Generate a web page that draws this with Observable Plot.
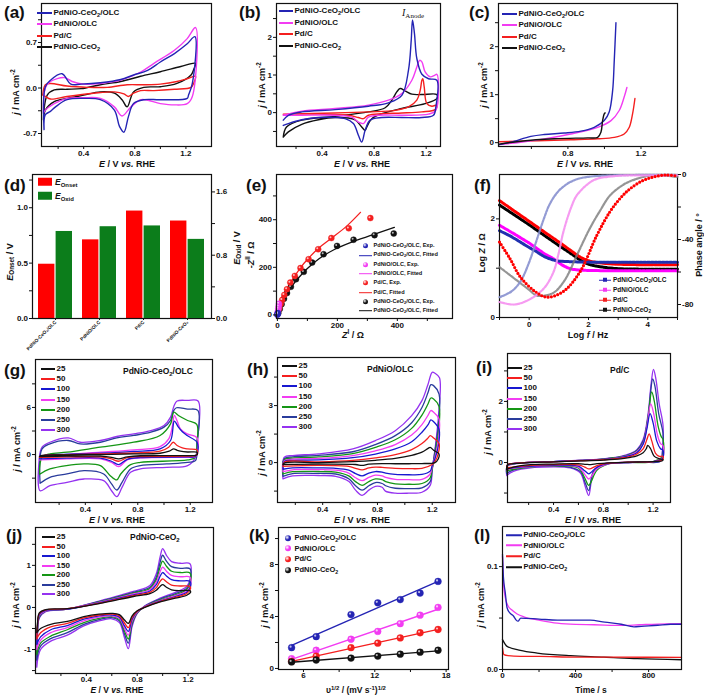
<!DOCTYPE html>
<html><head><meta charset="utf-8">
<script src="https://cdn.jsdelivr.net/npm/d3@7"></script>
<script src="https://cdn.jsdelivr.net/npm/@observablehq/plot@0.6"></script>
<style>
body{margin:0;background:#fff}
#root{position:relative;width:704px;height:695px;overflow:hidden;font-family:"Liberation Sans",Arial,sans-serif;font-weight:bold;color:#111;background:#fff}
.abs{position:absolute;white-space:nowrap;line-height:1}
.row{display:flex;align-items:center}
sub,sup{font-size:70%;line-height:0}
sub{vertical-align:-0.3em}
sup{vertical-align:0.5em}
</style></head>
<body><div id="root"></div>
<script>
// ---------------- DATA ----------------
const names4 = ["PdNiO-CeO<sub>2</sub>/OLC", "PdNiO/OLC", "Pd/C", "PdNiO-CeO<sub>2</sub>"];
const scanRates = ["25", "50", "100", "150", "200", "250", "300"];
// (a) CV  [E (V vs RHE), j (mA cm-2)]
const aBlue = [[0.09,-0.64],[0.10,0.02],[0.14,0.12],[0.23,0.22],[0.30,0.06],[0.38,0.06],[0.53,0.08],[0.69,0.13],[0.79,0.20],[0.90,0.27],[1.00,0.40],[1.11,0.53],[1.21,0.68],[1.27,0.79],[1.25,0.07],[1.22,-0.11],[1.21,-0.16],[1.00,-0.18],[0.87,-0.18],[0.79,-0.24],[0.75,-0.44],[0.715,-0.68],[0.68,-0.59],[0.64,-0.34],[0.53,-0.18],[0.40,-0.16],[0.27,-0.18],[0.18,-0.29],[0.14,-0.36],[0.10,-0.41],[0.09,-0.64]];
const aMag = [[0.085,-0.39],[0.10,0.0],[0.14,0.10],[0.25,0.16],[0.31,0.10],[0.40,0.06],[0.53,0.07],[0.69,0.12],[0.85,0.25],[0.95,0.38],[1.11,0.58],[1.21,0.76],[1.275,0.93],[1.25,-0.13],[1.21,-0.24],[1.11,-0.26],[1.00,-0.24],[0.85,-0.18],[0.77,-0.29],[0.70,-0.43],[0.64,-0.29],[0.53,-0.16],[0.40,-0.15],[0.27,-0.16],[0.17,-0.24],[0.10,-0.34],[0.085,-0.39]];
const aRed = [[0.08,-0.11],[0.10,0.05],[0.14,0.07],[0.27,0.03],[0.43,0.01],[0.585,0.01],[0.74,0.05],[0.87,0.05],[1.00,0.06],[1.13,0.10],[1.22,0.15],[1.275,0.18],[1.26,0.07],[1.24,0.01],[1.11,-0.02],[0.95,-0.04],[0.845,-0.04],[0.79,-0.08],[0.75,-0.13],[0.715,-0.09],[0.64,-0.06],[0.48,-0.08],[0.27,-0.13],[0.14,-0.17],[0.10,-0.13],[0.08,-0.11]];
const aBlack = [[0.085,-0.49],[0.115,-0.11],[0.17,-0.03],[0.27,-0.02],[0.38,-0.01],[0.53,0.05],[0.69,0.10],[0.845,0.18],[1.00,0.25],[1.16,0.33],[1.275,0.38],[1.26,0.28],[1.24,0.20],[1.13,0.07],[1.00,0.02],[0.87,0.01],[0.79,-0.06],[0.74,-0.29],[0.70,-0.18],[0.64,-0.08],[0.53,-0.06],[0.40,-0.11],[0.27,-0.16],[0.17,-0.21],[0.10,-0.34],[0.085,-0.49]];
// (b) CV ethanol
const bBlue = [[0.102,-0.20],[0.141,-0.07],[0.244,0.02],[0.5,0.08],[0.756,0.17],[0.91,0.26],[1.013,0.46],[1.064,1.13],[1.085,1.92],[1.095,2.46],[1.11,2.10],[1.128,1.44],[1.167,1.02],[1.218,0.90],[1.282,0.86],[1.274,0.15],[1.256,-0.07],[1.167,-0.13],[1.013,-0.13],[0.859,-0.13],[0.769,-0.20],[0.731,-0.47],[0.705,-0.78],[0.679,-0.60],[0.641,-0.29],[0.577,-0.16],[0.372,-0.13],[0.244,-0.19],[0.141,-0.29],[0.102,-0.34]];
const bMag = [[0.102,-0.07],[0.244,0.04],[0.5,0.11],[0.756,0.20],[0.91,0.33],[1.013,0.51],[1.09,0.86],[1.128,1.21],[1.149,1.39],[1.167,1.35],[1.192,1.08],[1.231,0.95],[1.264,0.99],[1.282,1.02],[1.274,0.06],[1.218,-0.04],[1.013,-0.07],[0.833,-0.07],[0.756,-0.12],[0.718,-0.29],[0.679,-0.25],[0.628,-0.12],[0.5,-0.07],[0.244,-0.07],[0.102,-0.07]];
const bRed = [[0.102,-0.04],[0.5,-0.01],[0.756,0.02],[0.962,0.06],[1.064,0.15],[1.128,0.33],[1.154,0.59],[1.167,0.86],[1.174,0.90],[1.185,0.68],[1.205,0.24],[1.244,0.17],[1.282,0.20],[1.269,0.08],[1.167,0.02],[1.013,-0.01],[0.859,-0.03],[0.756,-0.07],[0.718,-0.16],[0.679,-0.13],[0.603,-0.07],[0.372,-0.04],[0.102,-0.04]];
const bBlack = [[0.102,-0.65],[0.127,-0.38],[0.244,-0.20],[0.5,-0.10],[0.756,0.02],[0.885,0.13],[0.936,0.33],[0.974,0.55],[1.0,0.64],[1.038,0.58],[1.09,0.49],[1.167,0.48],[1.282,0.48],[1.282,0.37],[1.192,0.24],[1.013,0.11],[0.859,-0.03],[0.782,-0.16],[0.744,-0.38],[0.731,-0.47],[0.70,-0.36],[0.654,-0.19],[0.5,-0.13],[0.372,-0.19],[0.244,-0.31],[0.141,-0.51],[0.102,-0.65]];
// (c) LSV
const cBlue = [[0.424,-0.04],[0.488,0.01],[0.597,0.13],[0.67,0.17],[0.78,0.2],[0.871,0.24],[0.944,0.32],[0.999,0.46],[1.026,0.64],[1.045,1.09],[1.054,1.73],[1.063,2.5]];
const cMag = [[0.424,-0.04],[0.542,0.01],[0.67,0.08],[0.816,0.18],[0.963,0.32],[1.036,0.46],[1.081,0.67],[1.108,0.95],[1.123,1.15]];
const cRed = [[0.424,0.02],[0.634,0.04],[0.816,0.06],[0.963,0.08],[1.054,0.11],[1.108,0.18],[1.136,0.32],[1.154,0.6],[1.167,0.92]];
const cBlack = [[0.424,-0.03],[0.542,0.03],[0.725,0.08],[0.908,0.1],[0.963,0.11],[0.981,0.22],[0.99,0.46],[0.999,0.6],[1.004,0.62]];
// (d) onset / oxidation potentials
const dCats = ["PdNiO-CeO₂/OLC", "PdNiO/OLC", "Pd/C", "PdNiO-CeO₂"];
const dOnset = [0.49, 0.71, 0.97, 0.88];
const dOxid = [1.10, 1.16, 1.17, 1.00];
// (e) Nyquist  [Z', -Z'']
const eBlueExp = [[0,1],[1,4],[1.5,8]];
const eBlueFit = [[0,0],[1,5],[2,10]];
const eMagExp = [[0,2],[1,9],[2,17],[3,26],[4,36],[5,47]];
const eMagFit = [[0,0],[1.5,12],[3,28],[5,48]];
const eRedExp = [[2,10],[6,28],[11,46],[16,63],[23,84],[32,108],[43,136],[58,164],[77,197],[104,234],[136,276],[180,323],[238,364],[310,407]];
const eRedFit = [[0,0],[8,35],[18,70],[32,108],[50,148],[75,195],[105,240],[140,283],[180,322],[230,372],[277,431]];
const eBlackExp = [[3,8],[8,25],[14,45],[22,68],[32,92],[45,118],[62,150],[88,181],[116,220],[154,255],[199,290],[254,316],[324,335],[388,342]];
const eBlackFit = [[0,0],[10,35],[25,75],[45,115],[70,155],[100,195],[140,237],[190,275],[250,307],[320,337],[390,368]];
// (f) Bode  [log f, log Z] and [log f, phase]
const fBlueZ = [[-1,1.76],[-0.6,1.64],[-0.3,1.53],[0,1.42],[0.26,1.33],[0.5,1.24],[0.7,1.19],[0.93,1.15],[1.5,1.13],[2.5,1.12],[3.5,1.12],[4.5,1.12],[5,1.12]];
const fMagZ = [[-1,1.87],[-0.6,1.73],[-0.3,1.62],[0,1.51],[0.26,1.40],[0.5,1.3],[0.82,1.19],[1.1,1.07],[1.38,0.99],[1.8,0.96],[2.5,0.95],[3.5,0.95],[4.5,0.95],[5,0.95]];
const fRedZ = [[-1,2.37],[-0.5,2.16],[0,1.95],[0.5,1.74],[1.0,1.53],[1.4,1.36],[1.71,1.23],[2.0,1.15],[2.5,1.1],[3,1.08],[4,1.07],[5,1.07]];
const fBlackZ = [[-1,2.28],[-0.5,2.08],[0,1.88],[0.5,1.67],[1.0,1.46],[1.4,1.3],[1.71,1.17],[2.0,1.08],[2.5,1.02],[3,0.99],[4,0.98],[5,0.98]];
const fBluePh = [[-1,-75.5],[-0.6,-72],[-0.3,-66],[0,-54],[0.26,-40],[0.5,-27],[0.7,-18],[1.0,-10],[1.38,-4.7],[1.8,-2],[2.5,-0.7],[3.5,-0.3],[5,-0.3]];
const fMagPh = [[-1,-78.5],[-0.5,-80],[0,-77],[0.5,-70],[0.82,-60],[1.0,-48],[1.15,-35.5],[1.4,-21],[1.6,-13],[2.0,-5.5],[2.28,-2.7],[3,-0.8],[4,-0.5],[5,-0.5]];
const fBlackPh = [[-1,-57],[-0.5,-64],[0,-71],[0.26,-74.5],[0.8,-73],[1.2,-65],[1.6,-50],[2.05,-33],[2.4,-22],[2.72,-13],[3.2,-6],[3.62,-2.7],[4.2,-0.5],[5,-1.5]];
const fRedPh = [[-1,-41.6],[-0.64,-52],[-0.3,-63],[0.2,-72],[0.6,-75.5],[1.15,-72],[1.71,-60],[2.28,-37.5],[2.72,-23],[3.1,-14],[3.4,-8.8],[3.8,-4],[4.18,-1.6],[4.6,-0.3],[5,-1]];
// (g) PdNiO-CeO2/OLC scan rates
const g25 = [[0.05,-0.25],[0.06,-0.13],[0.26,-0.05],[0.515,0.0],[0.77,0.08],[0.97,0.17],[1.04,0.45],[1.074,0.72],[1.1,0.55],[1.125,0.43],[1.18,0.33],[1.252,0.3],[1.255,0.05],[1.24,-0.1],[1.18,-0.13],[0.82,-0.15],[0.72,-0.3],[0.654,-0.55],[0.6,-0.35],[0.515,-0.2],[0.26,-0.2],[0.05,-0.25]];
const g50 = [[0.05,-0.35],[0.06,-0.17],[0.26,-0.02],[0.515,0.09],[0.77,0.2],[0.97,0.43],[1.036,0.94],[1.07,1.57],[1.1,1.15],[1.14,0.85],[1.18,0.72],[1.252,0.6],[1.255,0.1],[1.24,-0.15],[1.18,-0.2],[0.82,-0.25],[0.72,-0.4],[0.654,-0.85],[0.6,-0.55],[0.515,-0.3],[0.26,-0.3],[0.05,-0.35]];
const g100 = [[0.05,-0.55],[0.06,-0.26],[0.26,0.05],[0.515,0.17],[0.77,0.4],[0.97,0.72],[1.05,1.79],[1.079,4.26],[1.11,3.49],[1.14,2.9],[1.176,2.43],[1.252,1.57],[1.255,0.2],[1.24,-0.25],[1.18,-0.3],[0.82,-0.38],[0.72,-0.6],[0.654,-1.28],[0.6,-0.85],[0.515,-0.45],[0.26,-0.45],[0.05,-0.55]];
const g150 = [[0.05,-0.68],[0.06,-0.34],[0.26,0.0],[0.515,0.3],[0.77,0.6],[0.97,1.02],[1.036,2.0],[1.065,3.7],[1.079,4.98],[1.1,4.3],[1.125,3.28],[1.176,2.64],[1.252,2.13],[1.255,0.3],[1.24,-0.3],[1.18,-0.34],[0.82,-0.43],[0.72,-0.68],[0.654,-1.53],[0.6,-1.0],[0.515,-0.55],[0.26,-0.55],[0.05,-0.68]];
const g200 = [[0.05,-2.47],[0.07,-0.34],[0.13,0.1],[0.26,0.3],[0.515,0.94],[0.77,1.57],[0.97,2.43],[1.05,3.91],[1.075,5.4],[1.11,4.98],[1.18,4.34],[1.25,3.83],[1.252,1.5],[1.24,-0.34],[1.18,-0.68],[0.82,-0.98],[0.745,-1.28],[0.67,-2.47],[0.64,-3.23],[0.59,-2.68],[0.515,-1.4],[0.39,-1.19],[0.13,-1.83],[0.055,-2.47]];
const g250 = [[0.055,-3.66],[0.07,0.72],[0.13,1.36],[0.27,1.79],[0.36,1.36],[0.515,1.57],[0.64,2.13],[0.77,2.43],[0.9,2.85],[1.0,3.49],[1.05,4.34],[1.075,5.62],[1.095,5.96],[1.18,5.79],[1.258,5.62],[1.252,1.36],[1.24,-0.77],[1.18,-0.98],[1.02,-1.19],[0.82,-1.4],[0.745,-1.83],[0.68,-3.53],[0.64,-4.51],[0.60,-3.74],[0.54,-2.47],[0.39,-2.04],[0.26,-2.47],[0.13,-2.89],[0.055,-3.66]];
const g300 = [[0.05,-0.34],[0.07,0.94],[0.13,1.57],[0.27,2.13],[0.36,1.57],[0.515,1.79],[0.64,2.3],[0.77,2.64],[0.90,3.06],[1.0,3.7],[1.05,4.77],[1.075,6.13],[1.10,6.81],[1.18,6.89],[1.26,6.81],[1.255,1.79],[1.24,-0.34],[1.18,-1.4],[1.02,-1.62],[0.82,-1.83],[0.745,-2.26],[0.68,-4.17],[0.64,-5.36],[0.60,-4.6],[0.54,-3.32],[0.39,-3.11],[0.26,-3.53],[0.13,-3.96],[0.055,-4.6],[0.05,-0.34]];
// (h) PdNiO/OLC scan rates
const h25 = [[0.11,-0.1],[0.12,-0.02],[0.37,0.0],[0.62,0.05],[0.785,0.12],[0.93,0.22],[1.05,0.38],[1.125,0.55],[1.17,0.75],[1.185,0.8],[1.21,0.65],[1.25,0.45],[1.245,0.2],[1.22,0.0],[1.125,-0.05],[1.03,-0.06],[0.93,-0.06],[0.834,-0.05],[0.737,-0.08],[0.688,-0.15],[0.64,-0.1],[0.37,-0.08],[0.11,-0.1]];
const h50 = [[0.11,-0.2],[0.12,0.02],[0.37,0.04],[0.62,0.12],[0.785,0.25],[0.93,0.42],[1.05,0.68],[1.125,1.0],[1.17,1.3],[1.185,1.42],[1.21,1.3],[1.25,1.0],[1.245,0.5],[1.22,0.05],[1.2,-0.1],[1.125,-0.3],[1.03,-0.32],[0.93,-0.3],[0.834,-0.25],[0.785,-0.24],[0.737,-0.28],[0.688,-0.38],[0.64,-0.3],[0.59,-0.2],[0.37,-0.15],[0.11,-0.2]];
const h100 = [[0.11,-0.35],[0.12,0.06],[0.18,0.12],[0.37,0.14],[0.62,0.26],[0.785,0.45],[0.93,0.72],[1.05,1.1],[1.125,1.6],[1.17,2.0],[1.19,2.25],[1.21,2.15],[1.25,1.75],[1.245,0.9],[1.22,0.2],[1.2,-0.15],[1.185,-0.45],[1.125,-0.62],[1.03,-0.64],[0.93,-0.62],[0.86,-0.55],[0.834,-0.5],[0.785,-0.47],[0.737,-0.55],[0.688,-0.7],[0.64,-0.58],[0.59,-0.4],[0.495,-0.3],[0.37,-0.28],[0.18,-0.28],[0.11,-0.35]];
const h150 = [[0.11,-0.48],[0.12,0.1],[0.18,0.18],[0.37,0.22],[0.62,0.37],[0.785,0.62],[0.93,0.95],[1.05,1.45],[1.125,2.0],[1.17,2.5],[1.19,2.74],[1.21,2.65],[1.25,2.3],[1.245,1.2],[1.22,0.3],[1.2,-0.2],[1.185,-0.6],[1.125,-0.88],[1.03,-0.9],[0.93,-0.88],[0.86,-0.78],[0.834,-0.7],[0.785,-0.66],[0.737,-0.78],[0.688,-0.95],[0.64,-0.8],[0.59,-0.55],[0.495,-0.4],[0.37,-0.37],[0.18,-0.38],[0.11,-0.48]];
const h200 = [[0.11,-0.6],[0.12,0.15],[0.18,0.24],[0.37,0.3],[0.62,0.47],[0.785,0.8],[0.93,1.2],[1.05,1.8],[1.125,2.5],[1.17,3.1],[1.19,3.4],[1.21,3.35],[1.25,2.95],[1.245,1.6],[1.22,0.4],[1.2,-0.3],[1.185,-0.8],[1.125,-1.1],[1.03,-1.14],[0.93,-1.12],[0.86,-1.0],[0.834,-0.9],[0.785,-0.86],[0.737,-1.0],[0.688,-1.2],[0.64,-1.0],[0.59,-0.7],[0.495,-0.5],[0.37,-0.47],[0.18,-0.48],[0.11,-0.6]];
const h250 = [[0.11,-0.72],[0.12,0.2],[0.18,0.3],[0.37,0.38],[0.62,0.57],[0.785,0.95],[0.93,1.42],[1.05,2.1],[1.125,2.9],[1.17,3.7],[1.19,4.1],[1.21,4.05],[1.25,3.6],[1.245,2.0],[1.22,0.6],[1.2,-0.3],[1.185,-1.0],[1.125,-1.33],[1.03,-1.37],[0.93,-1.35],[0.86,-1.22],[0.834,-1.1],[0.785,-1.05],[0.737,-1.22],[0.688,-1.45],[0.64,-1.22],[0.59,-0.85],[0.495,-0.6],[0.37,-0.57],[0.18,-0.58],[0.11,-0.72]];
const h300 = [[0.11,-0.86],[0.12,0.28],[0.18,0.37],[0.37,0.46],[0.62,0.72],[0.785,1.16],[0.93,1.68],[1.05,2.47],[1.125,3.26],[1.17,4.14],[1.2,4.75],[1.22,4.7],[1.253,4.46],[1.246,2.5],[1.222,0.8],[1.2,-0.4],[1.185,-1.2],[1.125,-1.56],[1.028,-1.61],[0.93,-1.61],[0.858,-1.5],[0.834,-1.3],[0.785,-1.25],[0.737,-1.45],[0.688,-1.72],[0.64,-1.45],[0.592,-1.0],[0.495,-0.72],[0.37,-0.68],[0.18,-0.7],[0.11,-0.86]];
// (i) Pd/C scan rates
const i25 = [[0.024,-0.25],[0.03,-0.08],[0.14,-0.02],[0.40,0.02],[0.62,0.05],[0.80,0.08],[0.94,0.12],[1.02,0.17],[1.07,0.22],[1.12,0.32],[1.145,0.45],[1.157,0.56],[1.18,0.45],[1.21,0.2],[1.25,0.12],[1.28,0.1],[1.275,0.06],[1.2,0.03],[1.0,0.01],[0.85,-0.01],[0.75,-0.04],[0.70,-0.07],[0.66,-0.06],[0.6,-0.04],[0.4,-0.05],[0.14,-0.1],[0.03,-0.22],[0.024,-0.25]];
const i50 = [[0.024,-0.2],[0.03,-0.07],[0.14,-0.01],[0.40,0.02],[0.62,0.06],[0.80,0.09],[0.94,0.14],[1.02,0.2],[1.07,0.28],[1.12,0.45],[1.15,0.75],[1.168,0.94],[1.19,0.7],[1.22,0.3],[1.25,0.2],[1.28,0.2],[1.275,0.08],[1.2,0.03],[1.0,0.01],[0.85,-0.02],[0.75,-0.1],[0.70,-0.2],[0.683,-0.21],[0.65,-0.15],[0.6,-0.08],[0.4,-0.07],[0.14,-0.12],[0.03,-0.18],[0.024,-0.2]];
const i100 = [[0.024,-0.22],[0.03,-0.08],[0.14,-0.01],[0.40,0.03],[0.62,0.06],[0.80,0.1],[0.94,0.16],[1.02,0.23],[1.07,0.32],[1.12,0.6],[1.15,1.1],[1.176,1.6],[1.2,1.3],[1.23,0.7],[1.26,0.45],[1.28,0.4],[1.275,0.12],[1.2,0.03],[1.0,0.0],[0.85,-0.03],[0.75,-0.15],[0.70,-0.33],[0.683,-0.37],[0.65,-0.27],[0.6,-0.12],[0.4,-0.09],[0.14,-0.14],[0.03,-0.2],[0.024,-0.22]];
const i150 = [[0.024,-0.25],[0.03,-0.09],[0.14,-0.01],[0.40,0.03],[0.62,0.07],[0.80,0.1],[0.94,0.17],[1.02,0.25],[1.07,0.35],[1.12,0.62],[1.155,1.3],[1.181,1.92],[1.205,1.6],[1.235,0.9],[1.26,0.62],[1.28,0.55],[1.275,0.15],[1.2,0.03],[1.0,0.0],[0.85,-0.04],[0.75,-0.2],[0.70,-0.48],[0.683,-0.54],[0.65,-0.38],[0.6,-0.15],[0.4,-0.1],[0.14,-0.16],[0.03,-0.23],[0.024,-0.25]];
const i200 = [[0.024,-0.3],[0.03,-0.1],[0.14,-0.02],[0.40,0.03],[0.62,0.07],[0.80,0.11],[0.94,0.18],[1.02,0.27],[1.07,0.37],[1.12,0.65],[1.16,1.5],[1.189,2.31],[1.21,2.0],[1.24,1.2],[1.265,0.85],[1.28,0.75],[1.275,0.2],[1.2,0.03],[1.0,0.0],[0.85,-0.04],[0.75,-0.25],[0.70,-0.65],[0.683,-0.75],[0.65,-0.5],[0.6,-0.18],[0.4,-0.11],[0.14,-0.18],[0.03,-0.27],[0.024,-0.3]];
const i250 = [[0.024,-0.37],[0.03,-0.1],[0.14,-0.02],[0.40,0.03],[0.62,0.07],[0.80,0.11],[0.94,0.18],[1.02,0.28],[1.07,0.4],[1.12,0.7],[1.16,1.45],[1.18,2.3],[1.197,2.74],[1.215,2.5],[1.245,1.6],[1.28,0.94],[1.275,0.3],[1.26,0.04],[1.12,0.01],[0.94,-0.01],[0.80,-0.05],[0.72,-0.3],[0.683,-0.92],[0.656,-0.68],[0.616,-0.3],[0.536,-0.16],[0.40,-0.12],[0.14,-0.18],[0.03,-0.34],[0.024,-0.37]];
const i300 = [[0.024,-0.43],[0.03,-0.12],[0.14,-0.02],[0.40,0.03],[0.62,0.08],[0.80,0.12],[0.94,0.2],[1.02,0.3],[1.07,0.42],[1.12,0.75],[1.16,1.6],[1.185,2.6],[1.203,3.05],[1.22,2.8],[1.25,1.9],[1.28,1.21],[1.275,0.4],[1.26,0.05],[1.12,0.02],[0.94,0.0],[0.80,-0.05],[0.72,-0.35],[0.683,-1.08],[0.656,-0.8],[0.616,-0.35],[0.536,-0.18],[0.40,-0.14],[0.14,-0.22],[0.03,-0.4],[0.024,-0.43]];
// (j) PdNiO-CeO2 scan rates
const j25 = [[0.01,-0.6],[0.015,-0.4],[0.03,-0.13],[0.08,-0.05],[0.25,-0.03],[0.5,0.09],[0.77,0.26],[0.9,0.33],[0.95,0.41],[0.98,0.5],[1.0,0.54],[1.03,0.48],[1.07,0.42],[1.14,0.4],[1.215,0.4],[1.22,0.36],[1.19,0.29],[1.1,0.22],[0.98,0.13],[0.86,0.0],[0.8,-0.08],[0.76,-0.2],[0.73,-0.38],[0.7,-0.3],[0.66,-0.17],[0.6,-0.14],[0.5,-0.16],[0.38,-0.22],[0.25,-0.33],[0.12,-0.4],[0.04,-0.5],[0.01,-0.6]];
const j50 = [[0.01,-0.75],[0.015,-0.45],[0.03,-0.15],[0.08,-0.06],[0.25,-0.03],[0.5,0.1],[0.77,0.28],[0.9,0.36],[0.95,0.47],[0.98,0.62],[1.0,0.68],[1.03,0.61],[1.07,0.53],[1.14,0.51],[1.215,0.5],[1.22,0.45],[1.19,0.33],[1.1,0.24],[0.98,0.14],[0.86,0.01],[0.8,-0.09],[0.76,-0.24],[0.73,-0.48],[0.7,-0.37],[0.66,-0.2],[0.6,-0.16],[0.5,-0.18],[0.38,-0.25],[0.25,-0.38],[0.12,-0.46],[0.04,-0.6],[0.01,-0.75]];
const j100 = [[0.01,-0.88],[0.015,-0.5],[0.03,-0.17],[0.08,-0.07],[0.25,-0.04],[0.5,0.11],[0.77,0.3],[0.9,0.39],[0.95,0.54],[0.98,0.74],[1.0,0.83],[1.03,0.75],[1.07,0.66],[1.14,0.63],[1.215,0.62],[1.22,0.5],[1.19,0.36],[1.1,0.26],[0.98,0.15],[0.86,0.01],[0.8,-0.1],[0.76,-0.28],[0.73,-0.57],[0.7,-0.44],[0.66,-0.23],[0.6,-0.18],[0.5,-0.2],[0.38,-0.28],[0.25,-0.43],[0.12,-0.53],[0.04,-0.7],[0.01,-0.88]];
const j150 = [[0.01,-1.0],[0.015,-0.55],[0.03,-0.19],[0.08,-0.08],[0.25,-0.04],[0.5,0.12],[0.77,0.32],[0.9,0.42],[0.95,0.6],[0.98,0.85],[1.0,0.96],[1.03,0.86],[1.07,0.76],[1.14,0.73],[1.215,0.72],[1.22,0.55],[1.19,0.39],[1.1,0.28],[0.98,0.16],[0.86,0.02],[0.8,-0.11],[0.76,-0.32],[0.73,-0.66],[0.7,-0.5],[0.66,-0.26],[0.6,-0.2],[0.5,-0.23],[0.38,-0.32],[0.25,-0.48],[0.12,-0.6],[0.04,-0.78],[0.01,-1.0]];
const j200 = [[0.01,-1.12],[0.015,-0.6],[0.03,-0.21],[0.08,-0.08],[0.25,-0.04],[0.5,0.13],[0.77,0.34],[0.9,0.45],[0.95,0.66],[0.98,0.96],[1.0,1.1],[1.03,0.98],[1.07,0.86],[1.14,0.83],[1.215,0.82],[1.22,0.61],[1.19,0.42],[1.1,0.3],[0.98,0.18],[0.86,0.02],[0.8,-0.12],[0.76,-0.36],[0.73,-0.75],[0.7,-0.56],[0.66,-0.29],[0.6,-0.22],[0.5,-0.26],[0.38,-0.36],[0.25,-0.53],[0.12,-0.68],[0.04,-0.85],[0.01,-1.12]];
const j250 = [[0.01,-1.25],[0.015,-0.65],[0.03,-0.23],[0.08,-0.09],[0.25,-0.04],[0.5,0.14],[0.77,0.36],[0.9,0.48],[0.95,0.72],[0.98,1.07],[1.0,1.24],[1.03,1.1],[1.07,0.97],[1.14,0.93],[1.215,0.92],[1.22,0.68],[1.19,0.46],[1.1,0.33],[0.98,0.2],[0.86,0.03],[0.8,-0.13],[0.76,-0.4],[0.73,-0.85],[0.7,-0.63],[0.66,-0.32],[0.6,-0.24],[0.5,-0.29],[0.38,-0.4],[0.25,-0.6],[0.12,-0.74],[0.04,-0.92],[0.01,-1.25]];
const j300 = [[0.01,-1.42],[0.015,-0.7],[0.03,-0.25],[0.08,-0.1],[0.25,-0.04],[0.5,0.15],[0.77,0.38],[0.9,0.52],[0.95,0.8],[0.98,1.2],[1.0,1.4],[1.03,1.24],[1.07,1.09],[1.14,1.05],[1.215,1.04],[1.22,0.75],[1.19,0.5],[1.1,0.36],[0.98,0.22],[0.86,0.04],[0.8,-0.14],[0.76,-0.45],[0.73,-0.98],[0.7,-0.72],[0.66,-0.36],[0.6,-0.27],[0.5,-0.32],[0.38,-0.44],[0.25,-0.66],[0.12,-0.8],[0.04,-1.0],[0.01,-1.42]];
// (k) peak current vs sqrt(scan rate)
const kX = [5, 7.07, 10, 12.25, 14.14, 15.81, 17.32];
const kBlue = [1.6, 2.45, 4.15, 5.05, 5.3, 5.8, 6.7];
const kMag = [0.75, 1.4, 2.25, 2.85, 3.45, 4.1, 4.7];
const kRed = [0.55, 0.95, 1.6, 1.95, 2.35, 2.75, 3.0];
const kBlack = [0.5, 0.65, 0.8, 0.95, 1.1, 1.25, 1.4];
// (l) chronoamperometry [t (s), j]
const lBlue = [[0,0.112],[5,0.09],[15,0.075],[25,0.06],[40,0.055],[60,0.052],[75,0.048],[85,0.047],[100,0.05],[200,0.049],[300,0.048],[400,0.048],[480,0.048],[560,0.046],[650,0.044],[720,0.0415],[760,0.042],[850,0.043],[920,0.044],[980,0.044]];
const lMag = [[0,0.11],[5,0.085],[15,0.07],[30,0.062],[50,0.058],[80,0.054],[120,0.051],[200,0.048],[300,0.045],[400,0.0438],[500,0.0435],[650,0.0428],[750,0.0435],[850,0.0442],[980,0.0446]];
const lRed = [[0,0.021],[8,0.0144],[30,0.0134],[100,0.0128],[200,0.0127],[400,0.0121],[600,0.012],[800,0.0119],[980,0.0118]];
const lBlack = [[0,0.029],[25,0.0225],[98,0.0186],[190,0.016],[373,0.0134],[555,0.0121],[738,0.0105],[980,0.0095]];

// ---------------- HELPERS ----------------
const root = document.getElementById("root");
const FONT = '"Liberation Sans", Arial, sans-serif';
const COL = {blue: "#2424b4", mag: "#f23cf2", red: "#f41f1f", black: "#111111"};
const scanCol = ["#111111", "#f41f1f", "#1818d0", "#f23cf2", "#159615", "#2a3c9c", "#9532f0"];
const P = d => d[0], Q = d => d[1];

function panel(o) {
  const m = {t: 8, r: 34, b: 20, l: 34};
  const svg = Plot.plot({
    width: o.fw + m.l + m.r, height: o.fh + m.t + m.b,
    marginTop: m.t, marginRight: m.r, marginBottom: m.b, marginLeft: m.l,
    x: o.x, y: o.y,
    style: {fontFamily: FONT, fontSize: (o.fs || 8) + "px", fontWeight: "bold", color: "#111", background: "transparent", overflow: "visible"},
    marks: o.marks
  });
  svg.style.position = "absolute";
  svg.style.left = (o.fx - m.l) + "px";
  svg.style.top = (o.fy - m.t) + "px";
  root.appendChild(svg);
}
const lab = (labels, f) => d => labels.some(v => Math.abs(v - d) < 1e-9) ? f(d) : "";
const f1 = d => d.toFixed(1), f0 = d => String(d);
const xAx = (ticks, labels, f = f1, pad = 1) => Plot.axisX({ticks, tickFormat: lab(labels, f), tickSize: 3, tickPadding: pad, label: null});
const yAx = (ticks, labels, f = f0, anchor = "left") => Plot.axisY({anchor, ticks, tickFormat: lab(labels, f), tickSize: 3, tickPadding: 1.5, label: null});
const frame = () => Plot.frame({stroke: "#111", strokeWidth: 1.2});
const L = (data, stroke, w = 1.4, extra = {}) => Plot.line(data, {x: P, y: Q, stroke, strokeWidth: w, curve: "catmull-rom", ...extra});

function T(html, x, y, o = {}) {
  const d = document.createElement("div");
  d.className = "abs";
  d.innerHTML = html;
  d.style.left = x + "px"; d.style.top = y + "px";
  d.style.fontSize = (o.size || 9) + "px";
  if (o.weight) d.style.fontWeight = o.weight;
  if (o.family) d.style.fontFamily = o.family;
  const tx = o.anchor === "start" ? "0" : "-50%";
  d.style.transform = `translate(${tx},-50%)` + (o.rot ? " rotate(-90deg)" : "");
  root.appendChild(d);
}
function legend(x, y, dy, items, o = {}) {
  const sw = o.sw || 15, size = o.size || 8;
  items.forEach((it, i) => {
    const d = document.createElement("div");
    d.className = "abs row";
    d.style.left = x + "px"; d.style.top = (y + i * dy) + "px";
    d.style.fontSize = size + "px";
    d.style.transform = "translateY(-50%)";
    let s;
    if (it.kind === "dot") {
      const r = o.r || 3;
      s = `<span style="display:inline-flex;justify-content:center;width:${sw}px"><span style="width:${2*r}px;height:${2*r}px;border-radius:50%;background:radial-gradient(circle at 35% 35%, #fff 0, ${it.color} 45%, ${it.color} 100%)"></span></span>`;
    } else if (it.kind === "sq") {
      s = `<span style="display:inline-block;width:${sw}px;height:${o.h || 8}px;background:${it.color}"></span>`;
    } else if (it.kind === "linesq") {
      s = `<span style="display:inline-flex;align-items:center;justify-content:center;width:${sw}px;height:6px;background:linear-gradient(${it.color},${it.color}) center/100% 1px no-repeat"><span style="width:4px;height:4px;background:${it.color}"></span></span>`;
    } else {
      s = `<span style="display:inline-block;width:${sw}px;height:${o.lw || 2}px;background:${it.color}"></span>`;
    }
    d.innerHTML = s + `<span style="margin-left:${o.gap ?? 1.5}px">${it.label}</span>`;
    root.appendChild(d);
  });
}
const jLab = "<i>j</i> / mA cm<sup>-2</sup>";
const eLab = "<i>E</i> / V <i>vs.</i> RHE";
const std4 = [COL.blue, COL.mag, COL.red, COL.black];
const Eticks = [0.2, 0.4, 0.6, 0.8, 1.0, 1.2], Elabels = [0.4, 0.8, 1.2];

// ---------------- (a) ----------------
panel({fx: 41, fy: 3, fw: 170, fh: 143,
  x: {domain: [0.07, 1.4]}, y: {domain: [-0.9, 1.3]},
  marks: [L(aBlack, COL.black), L(aRed, COL.red), L(aMag, COL.mag), L(aBlue, COL.blue),
    xAx(Eticks, Elabels), yAx([-0.7, -0.35, 0, 0.35, 0.7, 1.05], [-0.7, 0, 0.7], f1), frame()]});
// ---------------- (b) ----------------
panel({fx: 276, fy: 3, fw: 164, fh: 143,
  x: {domain: [0.05, 1.31]}, y: {domain: [-0.9, 2.9]},
  marks: [L(bBlack, COL.black), L(bRed, COL.red), L(bMag, COL.mag), L(bBlue, COL.blue),
    xAx(Eticks, Elabels), yAx([-0.5, 0, 0.5, 1, 1.5, 2, 2.5], [0, 1, 2]), frame()]});
// ---------------- (c) ----------------
panel({fx: 498, fy: 3, fw: 179, fh: 143,
  x: {domain: [0.42, 1.4]}, y: {domain: [-0.08, 2.9]},
  marks: [L(cRed, COL.red), L(cMag, COL.mag), L(cBlue, COL.blue), L(cBlack, COL.black),
    xAx([0.6, 0.8, 1.0, 1.2], [0.8, 1.2]), yAx([0, 0.5, 1, 1.5, 2, 2.5], [0, 1, 2]), frame()]});
// ---------------- (d) ----------------
const dRows = dCats.map((c, i) => ({cat: c, onset: dOnset[i], oxid: dOxid[i]}));
const dX = {type: "band", domain: dCats, paddingInner: 0.22, paddingOuter: 0.1};
panel({fx: 32, fy: 174, fw: 179, fh: 144,
  x: dX, y: {domain: [0, 1.3]},
  marks: [Plot.barY(dRows, {x: "cat", y: "onset", fill: "#ff0000", insetRight: 17.6}),
    Plot.axisX({tickRotate: -45, tickSize: 2, tickPadding: 1, fontSize: 4.8, label: null}),
    yAx([0, 0.25, 0.5, 0.75, 1.0, 1.25], [0, 0.5, 1.0], f1), frame()]});
panel({fx: 32, fy: 174, fw: 179, fh: 144,
  x: {...dX, axis: null}, y: {domain: [0, 1.82]},
  marks: [Plot.barY(dRows, {x: "cat", y: "oxid", fill: "#0c7d1b", insetLeft: 17.6}),
    yAx([0, 0.4, 0.8, 1.2, 1.6], [0, 0.8, 1.6], f1, "right")]});
// ---------------- (e) ----------------
const eDot = (data, c) => [Plot.dot(data, {x: P, y: Q, r: 3, fill: c, stroke: c, strokeWidth: 0.4}),
  Plot.dot(data, {x: P, y: Q, r: 1, fill: "#fff", fillOpacity: 0.7, dx: -0.9, dy: -0.9})];
panel({fx: 276, fy: 174, fw: 176, fh: 144,
  x: {domain: [-3, 584]}, y: {domain: [-15, 590]},
  marks: [L(eBlackFit, COL.black, 1.3), L(eRedFit, COL.red, 1.3), L(eMagFit, COL.mag, 1.3), L(eBlueFit, COL.blue, 1.3),
    ...eDot(eBlackExp, "#111"), ...eDot(eRedExp, COL.red), ...eDot(eMagExp, COL.mag), ...eDot(eBlueExp, COL.blue),
    xAx([0, 100, 200, 300, 400, 500], [0, 200, 400], f0), yAx([0, 100, 200, 300, 400, 500], [0, 200, 400]), frame()]});
// ---------------- (f) ----------------
const sqLine = (data, c) => L(data, c, 3, {strokeDasharray: "2.6,1.1"});
panel({fx: 499, fy: 174, fw: 178, fh: 143,
  x: {domain: [-1, 5]}, y: {domain: [0, 2.9]},
  marks: [sqLine(fBlackZ, "#000"), sqLine(fRedZ, "#f00"), sqLine(fMagZ, "#ff00ff"), sqLine(fBlueZ, "#2030b0"),
    xAx([-1, 0, 1, 2, 3, 4, 5], [0, 2, 4], f0), yAx([0, 1, 2], [0, 2]), frame()]});
panel({fx: 499, fy: 174, fw: 178, fh: 143,
  x: {domain: [-1, 5], axis: null}, y: {domain: [-88, 0]},
  marks: [L(fBlackPh, "#7a7a7a", 2.2, {strokeDasharray: "2.4,1.2", strokeOpacity: 0.8}),
    L(fBluePh, "#8790cf", 2.2, {strokeDasharray: "2.4,1.2", strokeOpacity: 0.9}),
    L(fMagPh, "#f590ef", 2.2, {strokeDasharray: "2.4,1.2", strokeOpacity: 0.9}),
    L(fRedPh, "#f00", 3.2, {strokeDasharray: "0,3.3", strokeLinecap: "round"}),
    yAx([-80, -60, -40, -20, 0], [-80, -40, 0], f0, "right")]});
// ---------------- (g)(h)(i)(j) ----------------
const gSets = [g25, g50, g100, g150, g200, g250, g300];
const hSets = [h25, h50, h100, h150, h200, h250, h300];
const iSets = [i25, i50, i100, i150, i200, i250, i300];
const jSets = [j25, j50, j100, j150, j200, j250, j300];
const scanMarks = sets => sets.map((s, k) => L(s, scanCol[k], 1.3)).reverse();
panel({fx: 35, fy: 359, fw: 177, fh: 143,
  x: {domain: [0.02, 1.37]}, y: {domain: [-6.1, 12.1]},
  marks: [...scanMarks(gSets), xAx(Eticks, Elabels), yAx([-3, 0, 3, 6, 9], [0, 6]), frame()]});
panel({fx: 277, fy: 357, fw: 178, fh: 145,
  x: {domain: [0.07, 1.37]}, y: {domain: [-2.1, 5.53]},
  marks: [...scanMarks(hSets), xAx(Eticks, Elabels), yAx([-1.5, 0, 1.5, 3, 4.5], [0, 3]), frame()]});
panel({fx: 507, fy: 353, fw: 163, fh: 149,
  x: {domain: [0.03, 1.34]}, y: {domain: [-1.31, 3.57]},
  marks: [...scanMarks(iSets), xAx(Eticks, Elabels), yAx([-1, 0, 1, 2, 3], [0, 2]), frame()]});
panel({fx: 35, fy: 527, fw: 178, fh: 146,
  x: {domain: [0, 1.4]}, y: {domain: [-1.57, 1.9]},
  marks: [...scanMarks(jSets), xAx(Eticks, Elabels, f1, 0), yAx([-1.5, -1, -0.5, 0, 0.5, 1, 1.5], [-1, 0, 1]), frame()]});
// ---------------- (k) ----------------
const kSeries = [kBlue, kMag, kRed, kBlack];
const kMarks = [];
kSeries.forEach((s, n) => {
  const rows = kX.map((x, i) => ({x, y: s[i]}));
  kMarks.push(Plot.linearRegressionY(rows, {x: "x", y: "y", stroke: std4[n], strokeWidth: 1.4, ci: 0}));
  kMarks.push(Plot.dot(rows, {x: "x", y: "y", r: 3.4, fill: std4[n], stroke: std4[n], strokeWidth: 0.4}));
  kMarks.push(Plot.dot(rows, {x: "x", y: "y", r: 1.1, fill: "#fff", fillOpacity: 0.7, dx: -1, dy: -1}));
});
panel({fx: 278, fy: 527, fw: 170, fh: 142,
  x: {domain: [3.9, 18.2]}, y: {domain: [-0.08, 10.85]},
  marks: [...kMarks, xAx([6, 9, 12, 15, 18], [6, 12, 18], f0, 0), yAx([0, 2, 4, 6, 8, 10], [0, 4, 8]), frame()]});
// ---------------- (l) ----------------
panel({fx: 502, fy: 526, fw: 179, fh: 143,
  x: {domain: [0, 980]}, y: {domain: [0, 0.139]},
  marks: [L(lBlack, COL.black, 1.3, {curve: "monotone-x"}), L(lRed, COL.red, 1.3, {curve: "monotone-x"}),
    L(lMag, COL.mag, 1.3, {curve: "monotone-x"}), L(lBlue, COL.blue, 1.3, {curve: "monotone-x"}),
    xAx([0, 200, 400, 600, 800], [0, 400, 800], f0, 0), yAx([0, 0.05, 0.1], [0, 0.1], f1), frame()]});

// ---------------- TEXT ----------------
const letters = [["(a)", 4, 12], ["(b)", 239, 12], ["(c)", 469, 12], ["(d)", 4, 185], ["(e)", 246, 185], ["(f)", 474, 185],
  ["(g)", 4, 370], ["(h)", 247, 369], ["(i)", 476, 367], ["(j)", 6, 535], ["(k)", 249, 535], ["(l)", 474, 535]];
letters.forEach(([t, x, y]) => T(t, x, y, {size: 17, anchor: "start"}));
// y titles
[[16, 92], [262, 85], [484, 85], [17, 449], [262, 453], [488, 432], [16, 605], [265, 605], [481, 605]]
  .forEach(([x, y]) => T(jLab, x, y, {rot: true, size: 9}));
T("<i>E</i><sub>Onset</sub> / V", 10, 262, {rot: true, size: 9});
T("<i>E</i><sub>Oxid</sub> / V", 237, 248, {rot: true, size: 9});
T("-<i>Z</i><sup>II</sup> / Ω", 251, 255, {rot: true, size: 9});
T("Log <i>Z</i> / Ω", 482, 253, {rot: true, size: 9});
T("Phase angle / °", 699, 245, {rot: true, size: 9});
// x titles
[[127, 164], [362, 164], [585, 164], [117, 520], [362, 520], [593, 520]].forEach(([x, y]) => T(eLab, x, y, {size: 9}));
T(eLab, 117, 689.5, {size: 8.5});
T("<i>Z</i><sup>I</sup> / Ω", 353, 335, {size: 9});
T("Log <i>f</i> / Hz", 588, 335, {size: 9});
T("υ<sup>1/2</sup> / (mV s<sup>-1</sup>)<sup>1/2</sup>", 356, 689.5, {size: 8.5});
T("Time / s", 591, 689.5, {size: 8.5});
// annotations
T("<i>I</i><sub>Anode</sub>", 402, 13, {size: 10, anchor: "start", weight: "normal", family: '"Liberation Serif", "DejaVu Serif", serif'});
T("PdNiO-CeO<sub>2</sub>/OLC", 123, 371, {size: 8.5, anchor: "start"});
T("PdNiO/OLC", 367, 369, {size: 8.5, anchor: "start"});
T("Pd/C", 610, 370, {size: 8.5, anchor: "start"});
T("PdNiO-CeO<sub>2</sub>", 130, 537, {size: 8.5, anchor: "start"});
// legends
const std4Items = names4.map((n, i) => ({label: n, color: std4[i]}));
legend(37, 13, 11.3, std4Items, {sw: 15, size: 8});
legend(279, 11, 11.6, std4Items, {sw: 14, size: 8});
legend(502, 14, 11.3, std4Items, {sw: 15, size: 8});
legend(506, 535, 10.7, std4Items, {sw: 16, size: 7.5});
legend(283, 538, 10.7, std4Items.map(d => ({...d, kind: "dot"})), {sw: 10, size: 7.5, r: 3});
const scanItems = scanRates.map((s, i) => ({label: s, color: scanCol[i]}));
legend(41, 369, 10.2, scanItems, {sw: 14, size: 8});
legend(282, 366, 10.2, scanItems, {sw: 15, size: 8});
legend(507, 368, 10.2, scanItems, {sw: 15, size: 8});
legend(42, 537, 9.5, scanItems, {sw: 13, size: 8});
legend(38, 182, 14, [{label: "<i>E</i><sub>Onset</sub>", color: "#ff0000", kind: "sq"}, {label: "<i>E</i><sub>Oxid</sub>", color: "#0c7d1b", kind: "sq"}], {sw: 14, size: 8.5, gap: 3});
const eItems = [];
names4.forEach((n, i) => {
  const c = [COL.blue, COL.mag, COL.red, COL.black][i];
  const nm = i === 3 ? names4[0] : n;
  eItems.push({label: nm + ", Exp.", color: c, kind: "dot"});
  eItems.push({label: nm + ", Fitted", color: c});
});
legend(359, 246, 9.3, eItems, {sw: 13, size: 5.6, r: 2.5, lw: 1.2});
legend(599, 280, 10, std4Items.map(d => ({...d, kind: "linesq"})), {sw: 12, size: 6.5, gap: 2});
</script></body></html>
